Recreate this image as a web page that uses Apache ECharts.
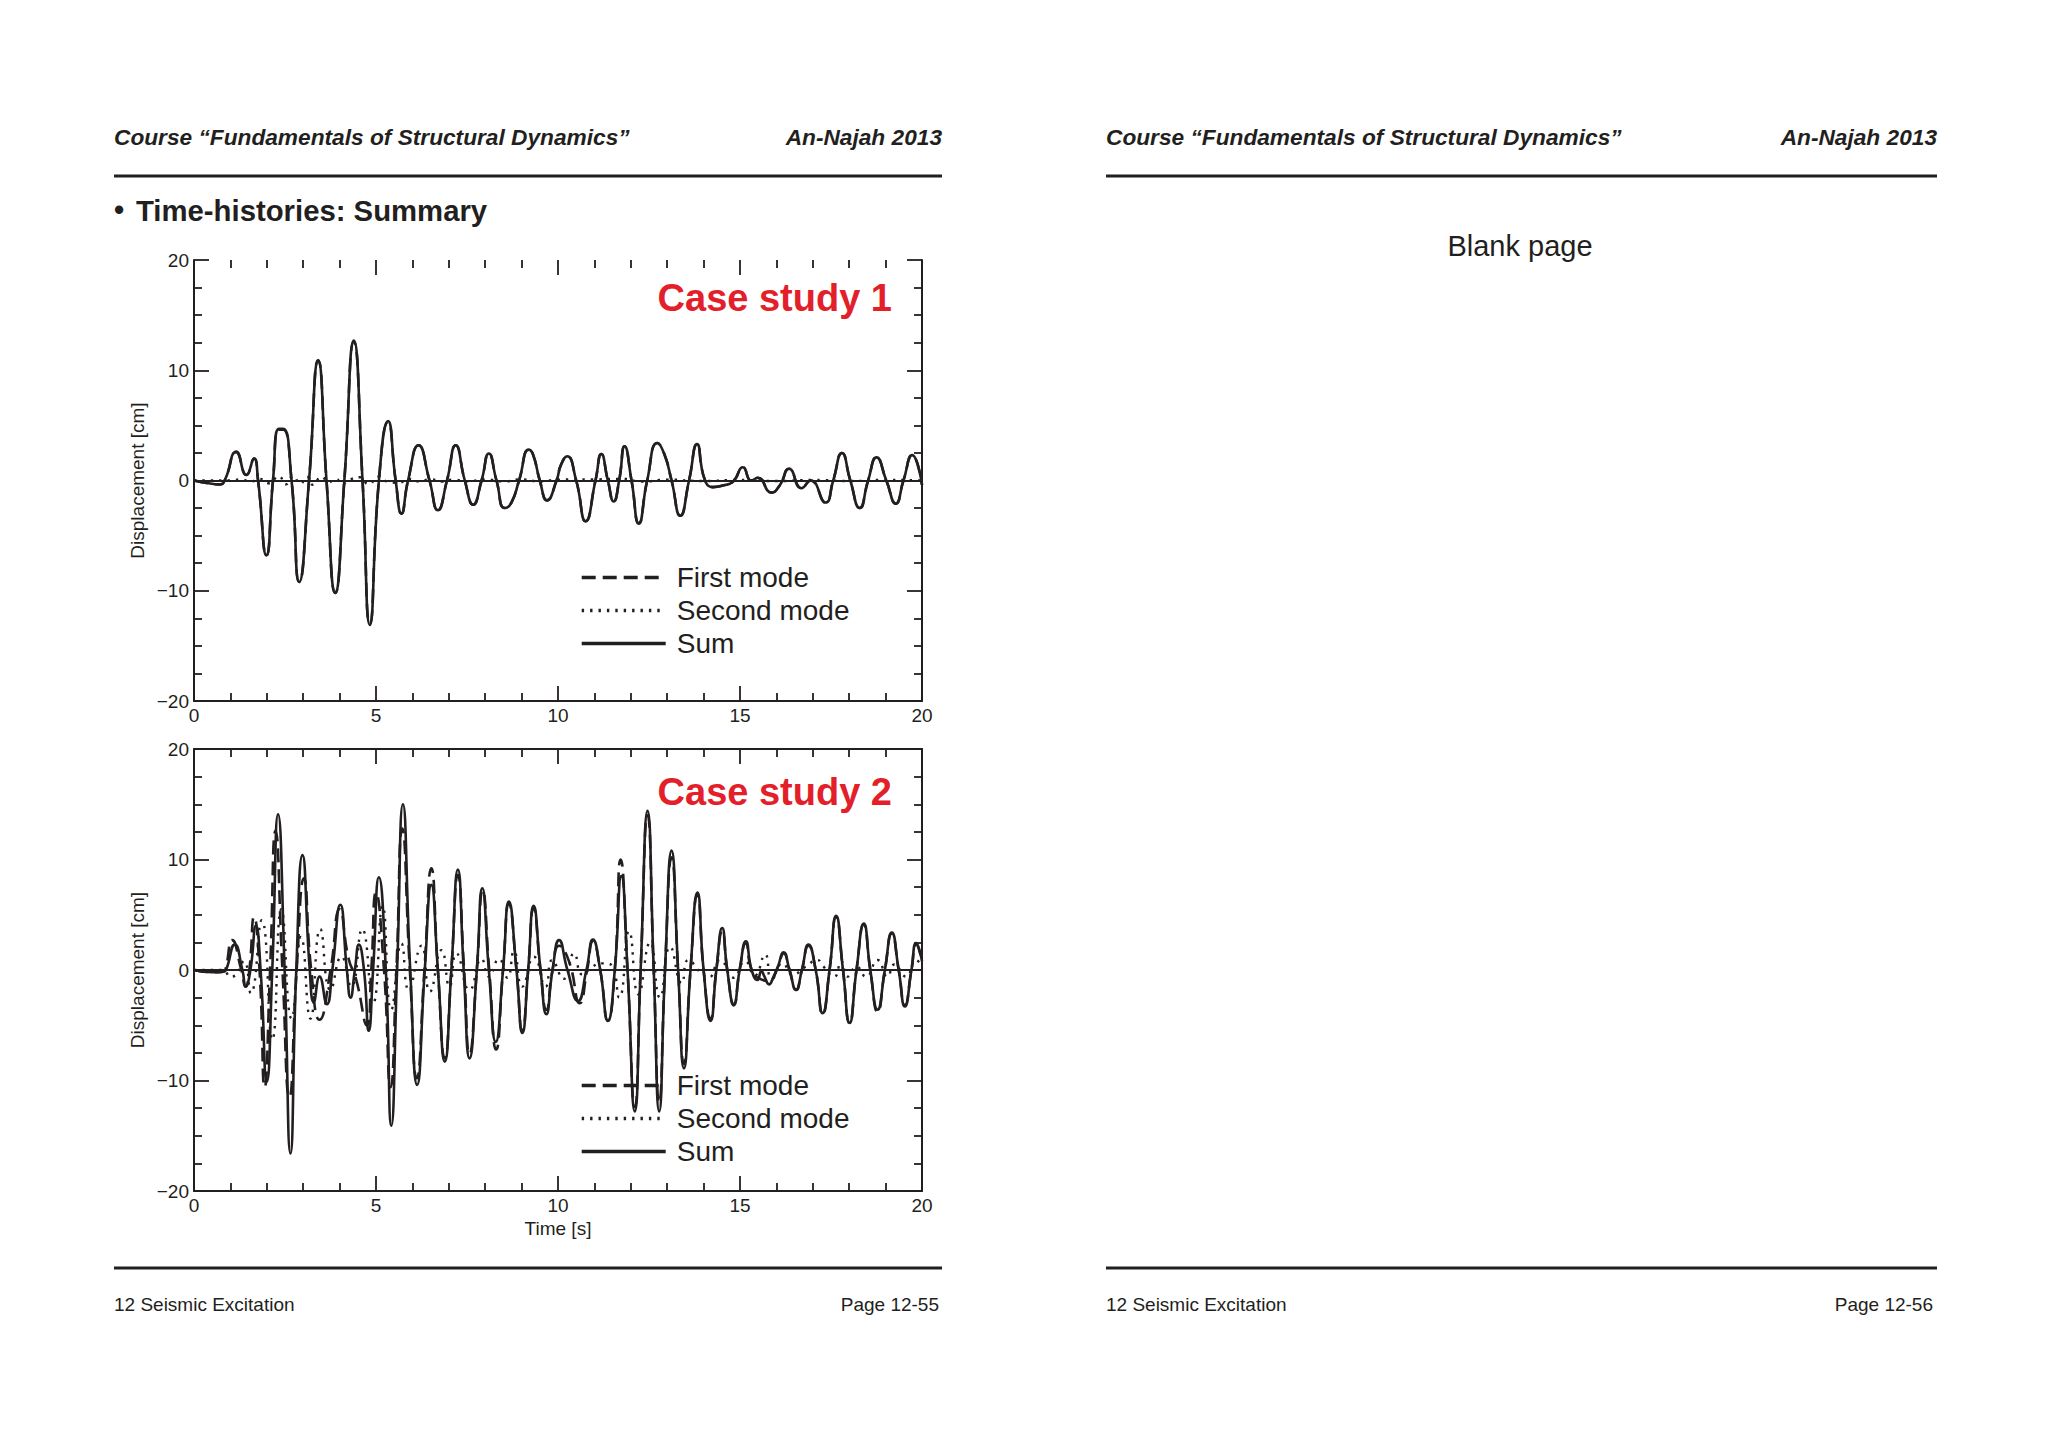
<!DOCTYPE html>
<html><head><meta charset="utf-8">
<script src="https://cdn.jsdelivr.net/npm/echarts@6/dist/echarts.min.js"></script>
<style>html,body{margin:0;padding:0;background:#fff;}#c{width:2048px;height:1448px;}</style>
</head><body><div id="c"></div>
<script>
// ---------- data (time [s], displacement [cm]) ----------
const seriesNames = ['First mode', 'Second mode', 'Sum'];
const caseTitles = ['Case study 1', 'Case study 2'];
const timeTicks = [0, 5, 10, 15, 20];
const dispTicks = [-20, -10, 0, 10, 20];

const c1Sum = [[0,0],[0.4,-0.25],[0.7,-0.35],[0.84,0],[1.16,2.6],[1.44,0.5],[1.65,2.0],[1.76,0],[1.99,-6.8],[2.17,0],[2.33,4.7],[2.45,4.7],[2.68,0],[2.89,-9.2],[3.16,0],[3.41,10.9],[3.64,0],[3.88,-10.2],[4.13,0],[4.39,12.7],[4.63,0],[4.83,-13.1],[5.08,0],[5.33,5.4],[5.54,0],[5.70,-3.0],[5.88,0],[6.17,3.2],[6.47,0],[6.70,-2.7],[6.95,0],[7.19,3.2],[7.44,0],[7.67,-2.2],[7.90,0],[8.10,2.45],[8.31,0],[8.54,-2.5],[8.72,-2.0],[8.93,0],[9.20,2.8],[9.32,2.3],[9.50,0],[9.70,-1.8],[9.96,0],[10.08,1.4],[10.25,2.2],[10.50,0],[10.76,-3.7],[11.03,0],[11.19,2.4],[11.37,0],[11.53,-1.9],[11.68,0],[11.83,3.1],[12.02,0],[12.22,-3.9],[12.45,0],[12.73,3.4],[12.92,2.4],[13.12,0],[13.36,-3.2],[13.60,0],[13.82,3.3],[14.03,0.1],[14.26,-0.6],[14.53,-0.45],[14.81,-0.1],[15.08,1.2],[15.31,0],[15.49,0.25],[15.86,-1.1],[16.09,-0.45],[16.35,1.06],[16.69,-0.7],[16.94,0],[17.35,-2.0],[17.56,0],[17.80,2.5],[18.03,0],[18.29,-2.5],[18.52,0],[18.75,2.1],[19.02,0],[19.28,-2.1],[19.49,0],[19.73,2.3],[20,-0.4]];
const c1First = [[0,0],[0.4,-0.25],[0.7,-0.35],[0.84,0],[1.16,2.6],[1.44,0.5],[1.65,2.0],[1.76,0],[1.99,-6.8],[2.17,0],[2.33,4.6],[2.45,4.6],[2.68,0],[2.89,-9.2],[3.16,0],[3.41,10.9],[3.64,0],[3.88,-10.2],[4.13,0],[4.39,12.6],[4.63,0],[4.83,-13.0],[5.08,0],[5.33,5.3],[5.54,0],[5.70,-3.0],[5.88,0],[6.17,3.2],[6.47,0],[6.70,-2.7],[6.95,0],[7.19,3.2],[7.44,0],[7.67,-2.2],[7.90,0],[8.10,2.45],[8.31,0],[8.54,-2.5],[8.72,-2.0],[8.93,0],[9.20,2.8],[9.32,2.3],[9.50,0],[9.70,-1.8],[9.96,0],[10.08,1.4],[10.25,2.2],[10.50,0],[10.76,-3.7],[11.03,0],[11.19,2.4],[11.37,0],[11.53,-1.9],[11.68,0],[11.83,3.1],[12.02,0],[12.22,-3.9],[12.45,0],[12.73,3.4],[12.92,2.4],[13.12,0],[13.36,-3.2],[13.60,0],[13.82,3.3],[14.03,0.1],[14.26,-0.6],[14.53,-0.45],[14.81,-0.1],[15.08,1.2],[15.31,0],[15.49,0.25],[15.86,-1.1],[16.09,-0.45],[16.35,1.06],[16.69,-0.7],[16.94,0],[17.35,-2.0],[17.56,0],[17.80,2.5],[18.03,0],[18.29,-2.5],[18.52,0],[18.75,2.1],[19.02,0],[19.28,-2.1],[19.49,0],[19.73,2.3],[20,-0.4]];
const c1Second = [[0,0],[1.0,0],[1.3,0.1],[1.55,-0.1],[1.8,0.15],[2.06,-0.25],[2.33,0.4],[2.52,-0.35],[2.72,0.4],[2.92,-0.3],[3.1,0.35],[3.27,-0.4],[3.5,0.35],[3.7,-0.15],[3.91,0.15],[4.05,-0.3],[4.3,0.1],[4.55,0.3],[4.8,-0.35],[5.07,0.35],[5.35,-0.15],[5.63,-0.2],[5.9,0.15],[6.2,-0.1],[6.5,0.12],[6.8,-0.1],[7.1,0.08],[7.5,-0.08],[8.0,0.1],[8.5,-0.08],[9.0,0.1],[9.5,-0.08],[10.0,0.08],[11.0,0.1],[11.8,0.15],[12.3,-0.1],[13.0,0.08],[14.0,-0.05],[15.0,0.05],[16.0,-0.05],[17.0,0.05],[18.0,-0.05],[19.0,0.05],[20,0]];

const c2Sum = [[0,0],[0.5,-0.2],[0.8,-0.15],[0.88,0],[1.12,2.3],[1.33,0],[1.42,-1.5],[1.55,0],[1.70,4.0],[1.83,0],[2.0,-10.1],[2.15,0],[2.31,14.1],[2.49,0],[2.65,-16.6],[2.81,0],[2.98,10.4],[3.18,0],[3.29,-2.9],[3.45,-0.6],[3.65,-3.1],[3.80,0],[4.02,5.9],[4.20,0],[4.30,-2.5],[4.42,0],[4.53,2.3],[4.67,0],[4.80,-5.5],[4.92,0],[5.08,8.4],[5.27,0],[5.42,-14.1],[5.58,0],[5.74,15.0],[5.94,0],[6.13,-10.4],[6.34,0],[6.52,7.7],[6.70,0],[6.89,-8.3],[7.07,0],[7.25,9.1],[7.41,0],[7.57,-8.0],[7.77,0],[7.92,7.4],[8.10,0],[8.29,-6.5],[8.49,0],[8.65,6.2],[8.86,0],[9.02,-5.7],[9.18,0],[9.33,5.8],[9.52,0],[9.68,-4.0],[9.85,0],[10.03,2.7],[10.26,0],[10.55,-2.8],[10.78,0],[10.96,2.75],[11.16,0],[11.37,-4.6],[11.56,0],[11.74,8.5],[11.91,0],[12.11,-12.8],[12.27,0],[12.46,14.4],[12.63,0],[12.78,-12.8],[12.94,0],[13.12,10.8],[13.30,0],[13.46,-8.9],[13.64,0],[13.83,7.0],[14.00,0],[14.19,-4.6],[14.35,0],[14.51,3.8],[14.65,0],[14.83,-3.1],[14.99,0],[15.16,2.6],[15.32,0],[15.48,-0.9],[15.59,-0.1],[15.66,-0.5],[15.80,-1.3],[15.92,-0.6],[16.03,0.2],[16.20,1.6],[16.36,0],[16.54,-1.8],[16.70,0],[16.88,2.3],[17.08,0],[17.27,-3.9],[17.46,0],[17.64,4.9],[17.83,0],[18.01,-4.8],[18.20,0],[18.40,4.2],[18.58,0],[18.78,-3.6],[18.98,0],[19.17,3.4],[19.36,0],[19.53,-3.3],[19.71,0],[19.84,2.45],[20,0.8]];
const c2First = [[0,0],[0.5,-0.2],[0.8,-0.15],[0.86,0],[1.05,2.7],[1.30,0],[1.42,-1.5],[1.52,0],[1.65,4.8],[1.80,0],[1.94,-10.6],[2.09,0],[2.24,12.6],[2.43,0],[2.62,-11.5],[2.82,0],[3.02,8.3],[3.22,0],[3.45,-4.5],[3.75,0],[4.00,5.5],[4.25,1.0],[4.45,-0.8],[4.75,-5.0],[4.87,0],[5.00,7.0],[5.22,0],[5.40,-10.6],[5.56,0],[5.72,12.8],[5.93,0],[6.12,-9.8],[6.33,0],[6.52,9.2],[6.70,0],[6.89,-8.0],[7.07,0],[7.25,8.6],[7.42,0],[7.57,-7.6],[7.77,0],[7.93,7.2],[8.11,0],[8.30,-7.2],[8.49,0],[8.65,6.0],[8.86,0],[9.02,-5.5],[9.18,0],[9.33,5.6],[9.52,0],[9.68,-3.6],[9.85,0],[10.03,2.2],[10.30,0.8],[10.60,-3.0],[10.80,0],[10.96,2.6],[11.16,0],[11.37,-4.6],[11.56,0],[11.72,10.0],[11.91,0],[12.11,-12.4],[12.27,0],[12.46,14.0],[12.63,0],[12.78,-12.0],[12.94,0],[13.12,10.2],[13.30,0],[13.46,-8.5],[13.64,0],[13.83,6.8],[14.00,0],[14.19,-4.4],[14.35,0],[14.51,3.5],[14.65,0],[14.83,-3.2],[14.99,0],[15.16,2.4],[15.32,0],[15.55,-0.8],[15.80,-1.0],[16.03,0.2],[16.20,1.5],[16.36,0],[16.54,-1.8],[16.70,0],[16.88,2.2],[17.08,0],[17.27,-4.0],[17.46,0],[17.64,4.8],[17.83,0],[18.01,-4.8],[18.20,0],[18.40,4.1],[18.58,0],[18.78,-3.8],[18.98,0],[19.17,3.3],[19.36,0],[19.53,-3.2],[19.71,0],[19.84,2.3],[20,0.8]];
const c2Second = [[0,0],[0.8,0],[1.0,-0.6],[1.13,-0.5],[1.37,0.8],[1.56,-2.1],[1.86,4.5],[2.15,-6.3],[2.40,5.5],[2.68,-4.4],[2.94,3.0],[3.20,-4.4],[3.47,3.7],[3.75,-1.8],[4.05,1.2],[4.32,-1.5],[4.62,3.7],[4.92,-3.0],[5.18,5.8],[5.42,-3.6],[5.70,2.4],[5.90,-1.8],[6.25,2.2],[6.48,-1.95],[6.80,1.8],[7.02,-1.5],[7.21,1.5],[7.57,-1.8],[7.90,1.0],[8.10,-0.6],[8.38,1.0],[8.61,-0.7],[8.79,1.7],[9.02,-1.5],[9.34,1.2],[9.66,-1.5],[9.84,0.9],[10.16,-0.8],[10.44,1.5],[10.67,-0.4],[10.95,0.3],[11.20,0.6],[11.45,0.5],[11.68,-2.5],[11.95,3.5],[12.21,-2.2],[12.53,2.5],[12.80,-2.5],[13.08,2.1],[13.40,-1.2],[13.58,0.9],[13.94,-0.3],[14.13,-0.7],[14.45,0.9],[14.82,-0.7],[15.14,0.8],[15.40,-0.5],[15.69,1.4],[15.87,-0.9],[16.17,0.6],[16.45,-0.4],[16.80,0.3],[17.13,0.9],[17.27,0.4],[17.59,-0.6],[17.78,0.8],[17.96,-0.6],[18.20,0.3],[18.46,-0.6],[18.78,0.9],[19.05,-0.6],[19.24,0.5],[19.56,-0.6],[19.83,0.9],[20,0.3]];

// ---------- styling ----------
const FONT = '"Liberation Sans", Arial, Helvetica, sans-serif';
const INK = '#231f20';
const RED = '#e3202a';
const W = 2048;
const grids = [
  {left: 194, top: 260, width: 728, height: 441},
  {left: 194, top: 749, width: 728, height: 442}
];

const minusFmt = v => (v < 0 ? '\u2212' + Math.abs(v) : String(v));
const lineSt = {color: INK, width: 2};
const tickSt = {color: INK, width: 1.8};

function xAxes(gi, topLine) {
  const common = {type: 'value', gridIndex: gi, min: timeTicks[0], max: timeTicks[timeTicks.length - 1], interval: 5,
    splitLine: {show: false}, minorSplitLine: {show: false},
    axisTick: {show: true, inside: true, length: 15, lineStyle: tickSt},
    minorTick: {show: true, splitNumber: 5, length: 8, lineStyle: tickSt}};
  return [
    Object.assign({}, common, {position: 'bottom', axisLine: {show: true, onZero: false, lineStyle: lineSt},
      axisLabel: {show: true, margin: 5, color: INK, fontSize: 19, fontFamily: FONT}}),
    Object.assign({}, common, {position: 'top', axisLine: {show: topLine, onZero: false, lineStyle: lineSt},
      axisLabel: {show: false}})
  ];
}
function yAxes(gi) {
  const common = {type: 'value', gridIndex: gi, min: dispTicks[0], max: dispTicks[dispTicks.length - 1], interval: 10,
    splitLine: {show: false}, minorSplitLine: {show: false},
    axisLine: {show: true, onZero: false, lineStyle: lineSt},
    axisTick: {show: true, inside: true, length: 15, lineStyle: tickSt},
    minorTick: {show: true, splitNumber: 4, length: 8, lineStyle: tickSt}};
  return [
    Object.assign({}, common, {position: 'left', name: 'Displacement [cm]', nameLocation: 'middle', nameGap: 47,
      nameTextStyle: {color: INK, fontSize: 19, fontFamily: FONT},
      axisLabel: {show: true, margin: 5, color: INK, fontSize: 19, fontFamily: FONT, formatter: minusFmt}}),
    Object.assign({}, common, {position: 'right', axisLabel: {show: false}})
  ];
}

const styles = {
  'First mode': {color: INK, width: 2.6, type: [14, 7]},
  'Second mode': {color: INK, width: 2.4, type: [2.4, 6]},
  'Sum': {color: INK, width: 2.6, type: 'solid'}
};
function mk(name, data, gi, withZero) {
  const s = {name, type: 'line', xAxisIndex: gi * 2, yAxisIndex: gi * 2, data,
    smooth: 0.55, showSymbol: false, symbol: 'none', lineStyle: styles[name], itemStyle: {color: INK},
    animation: false, z: name === 'Sum' ? 5 : (name === 'First mode' ? 3 : 4)};
  if (withZero) {
    s.markLine = {silent: true, symbol: ['none', 'none'], label: {show: false},
      lineStyle: {color: INK, width: 2, type: 'solid'}, data: [{yAxis: 0}], animation: false};
  }
  return s;
}

const legendBase = {orient: 'vertical', left: 580, itemWidth: 84, itemHeight: 14, itemGap: 5,
  selectedMode: false, padding: 0, data: seriesNames,
  itemStyle: {color: 'rgba(0,0,0,0)', borderWidth: 0, opacity: 0},
  lineStyle: {width: 3.4},
  textStyle: {fontSize: 28, fontFamily: FONT, color: INK, padding: [0, 0, 0, 6]}};

function txt(x, y, text, font, align, extra) {
  return Object.assign({type: 'text', x, y, silent: true,
    style: {text, font, fill: INK, align: align || 'left', verticalAlign: 'middle'}}, extra || {});
}
function hline(x1, x2, y) {
  return {type: 'line', silent: true, shape: {x1, y1: y, x2, y2: y}, style: {stroke: INK, lineWidth: 3}};
}
const hdrFont = 'italic bold 22.7px ' + FONT;
const ftrFont = '19px ' + FONT;

const option = {
  backgroundColor: '#ffffff',
  animation: false,
  grid: grids,
  xAxis: xAxes(0, false).concat(xAxes(1, true)),
  yAxis: yAxes(0).concat(yAxes(1)),
  title: [
    {text: caseTitles[0], right: W - 892, top: 279, padding: 0,
      textStyle: {color: RED, fontSize: 38, fontWeight: 'bold', fontFamily: FONT}},
    {text: caseTitles[1], right: W - 892, top: 773, padding: 0,
      textStyle: {color: RED, fontSize: 38, fontWeight: 'bold', fontFamily: FONT}}
  ],
  legend: [
    Object.assign({}, legendBase, {top: 563.5}),
    Object.assign({}, legendBase, {top: 1071.5})
  ],
  series: [
    mk('First mode', c1First, 0, true),
    mk('Second mode', c1Second, 0, false),
    mk('Sum', c1Sum, 0, false),
    mk('First mode', c2First, 1, true),
    mk('Second mode', c2Second, 1, false),
    mk('Sum', c2Sum, 1, false)
  ],
  graphic: [
    txt(114, 137, 'Course \u201cFundamentals of Structural Dynamics\u201d', hdrFont),
    txt(942, 137, 'An-Najah 2013', hdrFont, 'right'),
    hline(114, 942, 176),
    txt(114, 210, '\u2022', 'bold 29px ' + FONT),
    txt(136, 210, 'Time-histories: Summary', 'bold 29.3px ' + FONT),
    txt(558, 1228, 'Time [s]', '19px ' + FONT, 'center'),
    hline(114, 942, 1268),
    txt(114, 1304, '12 Seismic Excitation', ftrFont),
    txt(939, 1304, 'Page 12-55', ftrFont, 'right'),

    txt(1106, 137, 'Course \u201cFundamentals of Structural Dynamics\u201d', hdrFont),
    txt(1937, 137, 'An-Najah 2013', hdrFont, 'right'),
    hline(1106, 1937, 176),
    txt(1520, 246, 'Blank page', '29px ' + FONT, 'center'),
    hline(1106, 1937, 1268),
    txt(1106, 1304, '12 Seismic Excitation', ftrFont),
    txt(1933, 1304, 'Page 12-56', ftrFont, 'right')
  ]
};

const chart = echarts.init(document.getElementById('c'), null, {renderer: 'svg', width: 2048, height: 1448});
chart.setOption(option);
</script>
</body></html>
